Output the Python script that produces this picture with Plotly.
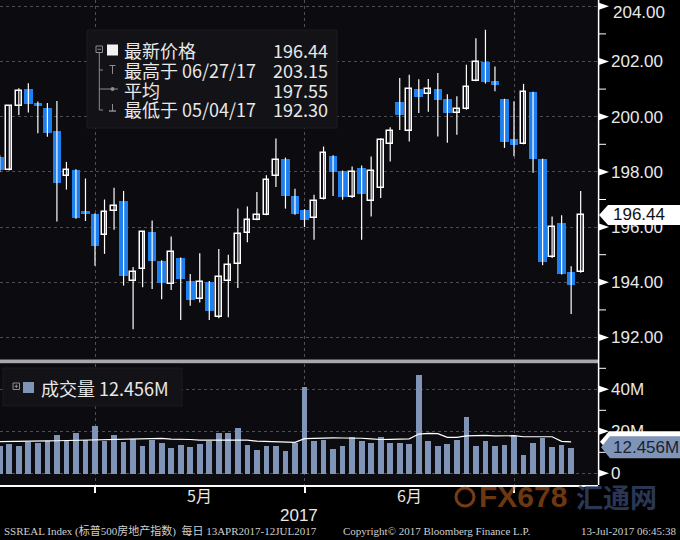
import plotly.graph_objects as go

# ---------------- data ----------------
opens = [198.55, 198.08, 200.39, 201.00, 200.50, 200.33, 199.48, 197.84, 198.06, 196.60,
         196.48, 195.70, 196.60, 196.93, 194.06, 194.48, 195.82, 194.79, 193.94, 194.88,
         194.06, 193.38, 194.02, 192.73, 194.04, 194.67, 195.78, 196.27, 196.45, 197.84,
         198.45, 197.13, 196.62, 196.32, 197.01, 198.58, 198.04, 197.08, 198.13, 196.93,
         197.41, 199.00, 200.54, 199.49, 201.00, 200.83, 201.00, 200.63, 200.13, 200.28,
         201.30, 202.00, 201.30, 200.64, 199.21, 199.02, 200.89, 198.47, 194.90, 196.14,
         194.36, 194.36]
highs = [198.60, 200.42, 201.03, 201.21, 200.55, 200.50, 200.57, 198.36, 198.10, 197.76,
         196.50, 197.00, 197.43, 197.31, 194.55, 195.85, 196.24, 194.80, 195.66, 194.90,
         194.30, 195.05, 194.05, 195.21, 195.00, 196.67, 196.75, 197.27, 197.88, 199.21,
         198.52, 197.39, 196.65, 197.17, 198.92, 198.60, 198.05, 198.20, 198.23, 198.56,
         199.22, 199.62, 201.40, 201.52, 201.36, 201.37, 201.58, 200.81, 200.74, 201.88,
         202.84, 203.15, 201.82, 200.65, 200.56, 201.19, 200.90, 198.48, 196.38, 196.43,
         194.58, 197.31]
lows = [198.00, 198.05, 200.06, 200.15, 199.40, 199.27, 196.20, 197.36, 196.30, 196.22,
        194.60, 195.03, 195.90, 193.88, 192.30, 193.82, 193.76, 193.39, 193.72, 192.63,
        193.15, 193.27, 192.63, 192.70, 192.73, 193.79, 195.45, 196.25, 196.43, 197.45,
        196.67, 196.45, 196.00, 195.54, 197.00, 197.13, 196.99, 197.05, 195.54, 196.38,
        197.05, 198.38, 199.52, 199.10, 200.13, 200.18, 199.28, 199.06, 199.35, 200.25,
        201.28, 201.20, 200.92, 198.87, 198.57, 199.00, 197.97, 194.62, 194.88, 194.28,
        192.85, 194.35]
closes = [198.06, 200.39, 200.93, 200.45, 200.40, 199.42, 197.58, 198.06, 196.33, 196.48,
          195.31, 196.55, 196.75, 194.24, 194.36, 195.82, 194.79, 193.96, 195.09, 194.12,
          193.36, 194.02, 192.97, 194.18, 194.64, 195.76, 196.27, 196.45, 197.70, 198.42,
          197.13, 196.48, 196.24, 196.96, 198.68, 197.99, 197.08, 198.01, 197.19, 198.05,
          199.14, 199.49, 200.06, 201.00, 200.73, 201.01, 200.61, 200.14, 200.28, 201.07,
          202.00, 201.24, 201.16, 199.08, 198.99, 200.89, 198.47, 194.74, 196.02, 194.30,
          193.91, 196.44]
# volume in millions
volumes = [13.1, 14.2, 13.4, 15.3, 14.6, 15.7, 18.6, 15.7, 19.2, 16.2,
           22.8, 15.8, 18.6, 15.3, 16.5, 13.1, 16.2, 14.6, 12.1, 13.7,
           12.6, 14.2, 15.7, 19.2, 19.2, 21.6, 13.9, 11.3, 13.4, 13.4,
           11.0, 14.6, 41.4, 15.7, 16.2, 12.0, 13.1, 17.6, 15.7, 14.6,
           17.6, 14.6, 14.6, 14.2, 46.9, 15.7, 13.4, 14.2, 16.2, 27.1,
           13.4, 15.7, 13.4, 13.9, 18.1, 9.1, 14.6, 16.9, 12.6, 13.9,
           12.456]
vol_avg = [15.1, 15.1, 15.2, 15.3, 15.3, 15.4, 15.5, 15.6, 15.7, 15.8,
           15.9, 16.0, 16.1, 16.2, 16.3, 16.3, 16.5, 16.6, 16.3, 16.3,
           16.1, 15.8, 15.8, 15.8, 16.0, 15.9, 15.8, 15.3, 15.2, 15.0,
           14.8, 14.7, 16.5, 16.7, 16.9, 16.9, 16.8, 16.9, 16.7, 16.4,
           16.1, 16.2, 16.4, 16.4, 18.7, 19.0, 18.9, 17.1, 17.1, 17.8,
           17.9, 18.1, 17.8, 17.7, 17.9, 17.4, 17.4, 17.5, 17.4, 15.2,
           15.0]
price_ticks = [192, 194, 196, 198, 200, 202, 204]
price_minor = [193, 195, 197, 199, 201, 203]
vol_ticks = [0, 20, 40]
vol_minor = [10, 30, 50]
month_pos = [10, 32, 54]          # trading-day index of month boundaries
month_label_pos = [21, 43]
month_labels = ["5月", "6月"]
year_label = "2017"
legend_rows = [("最新价格", "196.44"), ("最高于 06/27/17", "203.15"),
               ("平均", "197.55"), ("最低于 05/04/17", "192.30")]
vol_legend = "成交量 12.456M"
footer_left = "SSREAL Index (标普500房地产指数)  每日 13APR2017-12JUL2017"
footer_mid = "Copyright© 2017 Bloomberg Finance L.P."
footer_right = "13-Jul-2017 06:45:38"

# ---------------- layout geometry ----------------
W, H = 680, 540
PW, PH = 598, 485          # plot area in px (margins l=0,t=0)
BG = "#0b0b10"
BLUE = "#1e80ef"
VOLC = "#7f94b6"
GRID = "#4e4e55"
TXT = "#e8e8e8"

def px(x):
    return x / PW

def py(y):
    return 1 - y / PH

P_TOP, P_BOT = 0, 359
p_range = [200 - (P_BOT - 116.7) / 27.6, 200 - (P_TOP - 116.7) / 27.6]
V_TOP, V_BOT = 363.5, 485
v_range = [(473.3 - V_BOT) / 2.1, (473.3 - V_TOP) / 2.1]
x_range = [0.024, 62.82]
p_per_px = (p_range[1] - p_range[0]) / (P_BOT - P_TOP)
v_per_px = (v_range[1] - v_range[0]) / (V_BOT - V_TOP)

fig = go.Figure()
n = len(opens)
idx = list(range(n))

# wicks
wx, wy = [], []
for i in idx:
    wx += [i, i, None]
    wy += [lows[i], highs[i], None]
fig.add_trace(go.Scatter(x=wx, y=wy, mode="lines", line=dict(color="white", width=1.2),
                         xaxis="x", yaxis="y", hoverinfo="skip"))
dn = [i for i in idx if closes[i] < opens[i]]
up = [i for i in idx if closes[i] >= opens[i]]
fig.add_trace(go.Bar(x=dn, base=[closes[i] for i in dn], y=[opens[i] - closes[i] for i in dn],
                     width=0.9, marker=dict(color=BLUE, line=dict(width=0)),
                     xaxis="x", yaxis="y"))
fig.add_trace(go.Bar(x=up, base=[opens[i] for i in up], y=[closes[i] - opens[i] for i in up],
                     width=0.6, marker=dict(color=BG, line=dict(color="white", width=1.5)),
                     xaxis="x", yaxis="y"))
# volume
fig.add_trace(go.Bar(x=list(range(len(volumes))), y=volumes, width=0.6,
                     marker=dict(color=VOLC, line=dict(width=0)), xaxis="x2", yaxis="y2"))
fig.add_trace(go.Scatter(x=list(range(len(vol_avg))), y=vol_avg, mode="lines",
                         line=dict(color="white", width=1.2), xaxis="x2", yaxis="y2"))

grid_common = dict(showgrid=True, gridcolor=GRID, griddash="dot", gridwidth=1, zeroline=False)
tickfont = dict(family="Liberation Sans, Arial, sans-serif", size=17, color=TXT)

fig.update_layout(
    width=W, height=H, paper_bgcolor="#000000", plot_bgcolor=BG,
    margin=dict(l=0, r=W - PW, t=0, b=H - PH, pad=0, autoexpand=False),
    showlegend=False, barmode="overlay", bargap=0,
    xaxis=dict(domain=[0, 1], range=x_range, anchor="y", tickvals=month_pos,
               showticklabels=False, ticks="", showline=False, **grid_common),
    xaxis2=dict(domain=[0, 1], range=x_range, anchor="y2", matches="x", tickvals=month_pos,
                ticktext=["" for _ in month_pos], ticks="outside", ticklen=6, tickwidth=1.5,
                tickcolor="white", showline=True, linecolor="white", linewidth=1.5,
                **grid_common),
    yaxis=dict(domain=[py(P_BOT), py(P_TOP)], range=p_range, anchor="x", side="right",
               tickvals=price_ticks,
               ticktext=["" if v == 204 else f"{v:.2f}" for v in price_ticks],
               ticks="", ticklabelstandoff=12, tickfont=tickfont, showline=False,
               **grid_common),
    yaxis2=dict(domain=[py(V_BOT), py(V_TOP)], range=v_range, anchor="x2", side="right",
                tickvals=vol_ticks, ticktext=[("0" if v == 0 else f"{v}M") for v in vol_ticks],
                ticks="", ticklabelstandoff=12, tickfont=tickfont, showline=False,
                **grid_common),
)

shapes = []
ann = []
# separator band and axis line
shapes.append(dict(type="rect", xref="paper", yref="paper", x0=0, x1=1,
                   y0=py(363.3), y1=py(359.6), fillcolor="#a9a9a9", line=dict(width=0),
                   layer="above"))
shapes.append(dict(type="line", xref="paper", yref="paper", x0=1.001, x1=1.001, y0=0, y1=1,
                   line=dict(color="white", width=1.5), layer="above"))
# tick markers
for v in price_ticks:
    d = 3.5 * p_per_px
    shapes.append(dict(type="path", xref="paper", yref="y",
                       path=f"M {px(599)},{v + d} L {px(609)},{v} L {px(599)},{v - d} Z",
                       fillcolor="white", line=dict(width=0), layer="above"))
for v in price_minor:
    shapes.append(dict(type="line", xref="paper", yref="y", x0=px(599), x1=px(606), y0=v, y1=v,
                       line=dict(color="white", width=1), layer="above"))
for v in vol_ticks:
    d = 3.5 * v_per_px
    shapes.append(dict(type="path", xref="paper", yref="y2",
                       path=f"M {px(599)},{v + d} L {px(609)},{v} L {px(599)},{v - d} Z",
                       fillcolor="white", line=dict(width=0), layer="above"))
for v in vol_minor:
    shapes.append(dict(type="line", xref="paper", yref="y2", x0=px(599), x1=px(606), y0=v, y1=v,
                       line=dict(color="white", width=1), layer="above"))
ann.append(dict(xref="paper", yref="y", x=px(611), y=204, yshift=-6, text="204.00",
                showarrow=False, xanchor="left", yanchor="middle", font=tickfont))

# last price label
lp = closes[-1]
h = 10 * p_per_px
shapes.append(dict(type="path", xref="paper", yref="y",
                   path=(f"M {px(599)},{lp} L {px(608)},{lp + h} L {px(680)},{lp + h} "
                         f"L {px(680)},{lp - h} L {px(608)},{lp - h} Z"),
                   fillcolor="white", line=dict(width=0), layer="above"))
ann.append(dict(xref="paper", yref="y", x=px(611), y=lp, text=f"{lp:.2f}", showarrow=False,
                xanchor="left", yanchor="middle",
                font=dict(family="Liberation Sans, Arial", size=17, color="#111111")))
# volume average label (white, behind) and volume label
ma = vol_avg[-1]
h = 10.5 * v_per_px
shapes.append(dict(type="path", xref="paper", yref="y2",
                   path=(f"M {px(600)},{ma} L {px(609)},{ma + h} L {px(680)},{ma + h} "
                         f"L {px(680)},{ma - h} L {px(609)},{ma - h} Z"),
                   fillcolor="white", line=dict(width=0), layer="above"))
lv = volumes[-1]
h = 11 * v_per_px
shapes.append(dict(type="path", xref="paper", yref="y2",
                   path=(f"M {px(601)},{lv} L {px(610)},{lv + h} L {px(680)},{lv + h} "
                         f"L {px(680)},{lv - h} L {px(610)},{lv - h} Z"),
                   fillcolor=VOLC, line=dict(width=0), layer="above"))
ann.append(dict(xref="paper", yref="y2", x=px(611), y=lv, text=f"{lv:.3f}M", showarrow=False,
                xanchor="left", yanchor="middle",
                font=dict(family="Liberation Sans, Arial", size=17, color="#1b2230")))

# price legend box
shapes.append(dict(type="rect", xref="paper", yref="paper", x0=px(87), x1=px(337),
                   y0=py(128), y1=py(30), fillcolor="#121217", line=dict(color="#1b1b21", width=1),
                   layer="above"))
GRY = "#8c8c8c"
def seg(x0, y0, x1, y1, c=GRY, w=1):
    shapes.append(dict(type="line", xref="paper", yref="paper", x0=px(x0), x1=px(x1),
                       y0=py(y0), y1=py(y1), line=dict(color=c, width=w), layer="above"))
# tree and icons
shapes.append(dict(type="rect", xref="paper", yref="paper", x0=px(96), x1=px(102.5),
                   y0=py(52.5), y1=py(46), line=dict(color=GRY, width=1), layer="above"))
seg(97.5, 49.3, 101, 49.3)
seg(99.3, 52.5, 99.3, 110)
seg(99.3, 70, 103, 70)
seg(99.3, 110, 103, 110)
shapes.append(dict(type="rect", xref="paper", yref="paper", x0=px(107), x1=px(118),
                   y0=py(55.5), y1=py(44.5), fillcolor="#f2f2f2", line=dict(width=0),
                   layer="above"))
seg(109.5, 65.5, 115.5, 65.5)
seg(112.5, 65.5, 112.5, 74)
seg(99.3, 89, 118, 89)
shapes.append(dict(type="circle", xref="paper", yref="paper", x0=px(110.5), x1=px(114.5),
                   y0=py(91), y1=py(87), fillcolor=GRY, line=dict(width=0), layer="above"))
seg(112.5, 104, 112.5, 111)
seg(109, 111, 116, 111, w=1.5)
leg_font = dict(family="Noto Sans CJK SC, sans-serif", size=18, color=TXT)
for k, (lab, val) in enumerate(legend_rows):
    yy = 50 + k * 19.8
    ann.append(dict(xref="paper", yref="paper", x=px(122), y=py(yy), text=lab, showarrow=False,
                    xanchor="left", yanchor="middle", font=leg_font))
    ann.append(dict(xref="paper", yref="paper", x=px(330), y=py(yy), text=val, showarrow=False,
                    xanchor="right", yanchor="middle", font=leg_font))

# volume legend box
shapes.append(dict(type="rect", xref="paper", yref="paper", x0=px(3), x1=px(182),
                   y0=py(406), y1=py(368), fillcolor="#121217", line=dict(color="#1b1b21", width=1),
                   layer="above"))
shapes.append(dict(type="rect", xref="paper", yref="paper", x0=px(13), x1=px(19.5),
                   y0=py(389.5), y1=py(383), line=dict(color=GRY, width=1), layer="above"))
seg(14.5, 386.3, 18, 386.3)
seg(16.3, 384.5, 16.3, 388)
shapes.append(dict(type="rect", xref="paper", yref="paper", x0=px(23), x1=px(34),
                   y0=py(393), y1=py(382), fillcolor=VOLC, line=dict(width=0), layer="above"))
ann.append(dict(xref="paper", yref="paper", x=px(39), y=py(387.5), text=vol_legend,
                showarrow=False, xanchor="left", yanchor="middle", font=leg_font))

# month labels, year
for pos, lab in zip(month_label_pos, month_labels):
    ann.append(dict(xref="x2", yref="paper", x=pos, y=py(495), text=lab, showarrow=False,
                    xanchor="center", yanchor="middle",
                    font=dict(family="Noto Sans CJK SC, sans-serif", size=16, color=TXT)))
ann.append(dict(xref="paper", yref="paper", x=px(299), y=py(515), text=year_label,
                showarrow=False, xanchor="center", yanchor="middle",
                font=dict(family="Liberation Sans, Arial", size=17, color=TXT)))

# watermark
shapes.append(dict(type="circle", xref="paper", yref="paper", x0=px(456), x1=px(474),
                   y0=py(506), y1=py(488), line=dict(color="rgba(200,100,30,0.6)", width=3),
                   layer="above"))
ann.append(dict(xref="paper", yref="paper", x=px(477), y=py(497), text="<b>FX678</b>",
                showarrow=False, xanchor="left", yanchor="middle",
                font=dict(family="Liberation Sans, Arial", size=30, color="rgba(185,95,30,0.6)")))
ann.append(dict(xref="paper", yref="paper", x=px(574), y=py(497), text="<b>汇通网</b>",
                showarrow=False, xanchor="left", yanchor="middle",
                font=dict(family="Noto Sans CJK SC", size=27, color="rgba(60,80,125,0.7)")))

# footer
ffont = dict(family="Liberation Serif, Noto Sans CJK SC, serif", size=11, color="#cfcfcf")
ann.append(dict(xref="paper", yref="paper", x=px(2), y=py(531), text=footer_left,
                showarrow=False, xanchor="left", yanchor="middle", font=ffont))
ann.append(dict(xref="paper", yref="paper", x=px(341), y=py(531), text=footer_mid,
                showarrow=False, xanchor="left", yanchor="middle", font=ffont))
ann.append(dict(xref="paper", yref="paper", x=px(679), y=py(531), text=footer_right,
                showarrow=False, xanchor="right", yanchor="middle", font=ffont))

fig.update_layout(shapes=shapes, annotations=ann)
fig.write_html("out.html", config={"displayModeBar": False},
               post_script="document.body.style.margin='0';")
